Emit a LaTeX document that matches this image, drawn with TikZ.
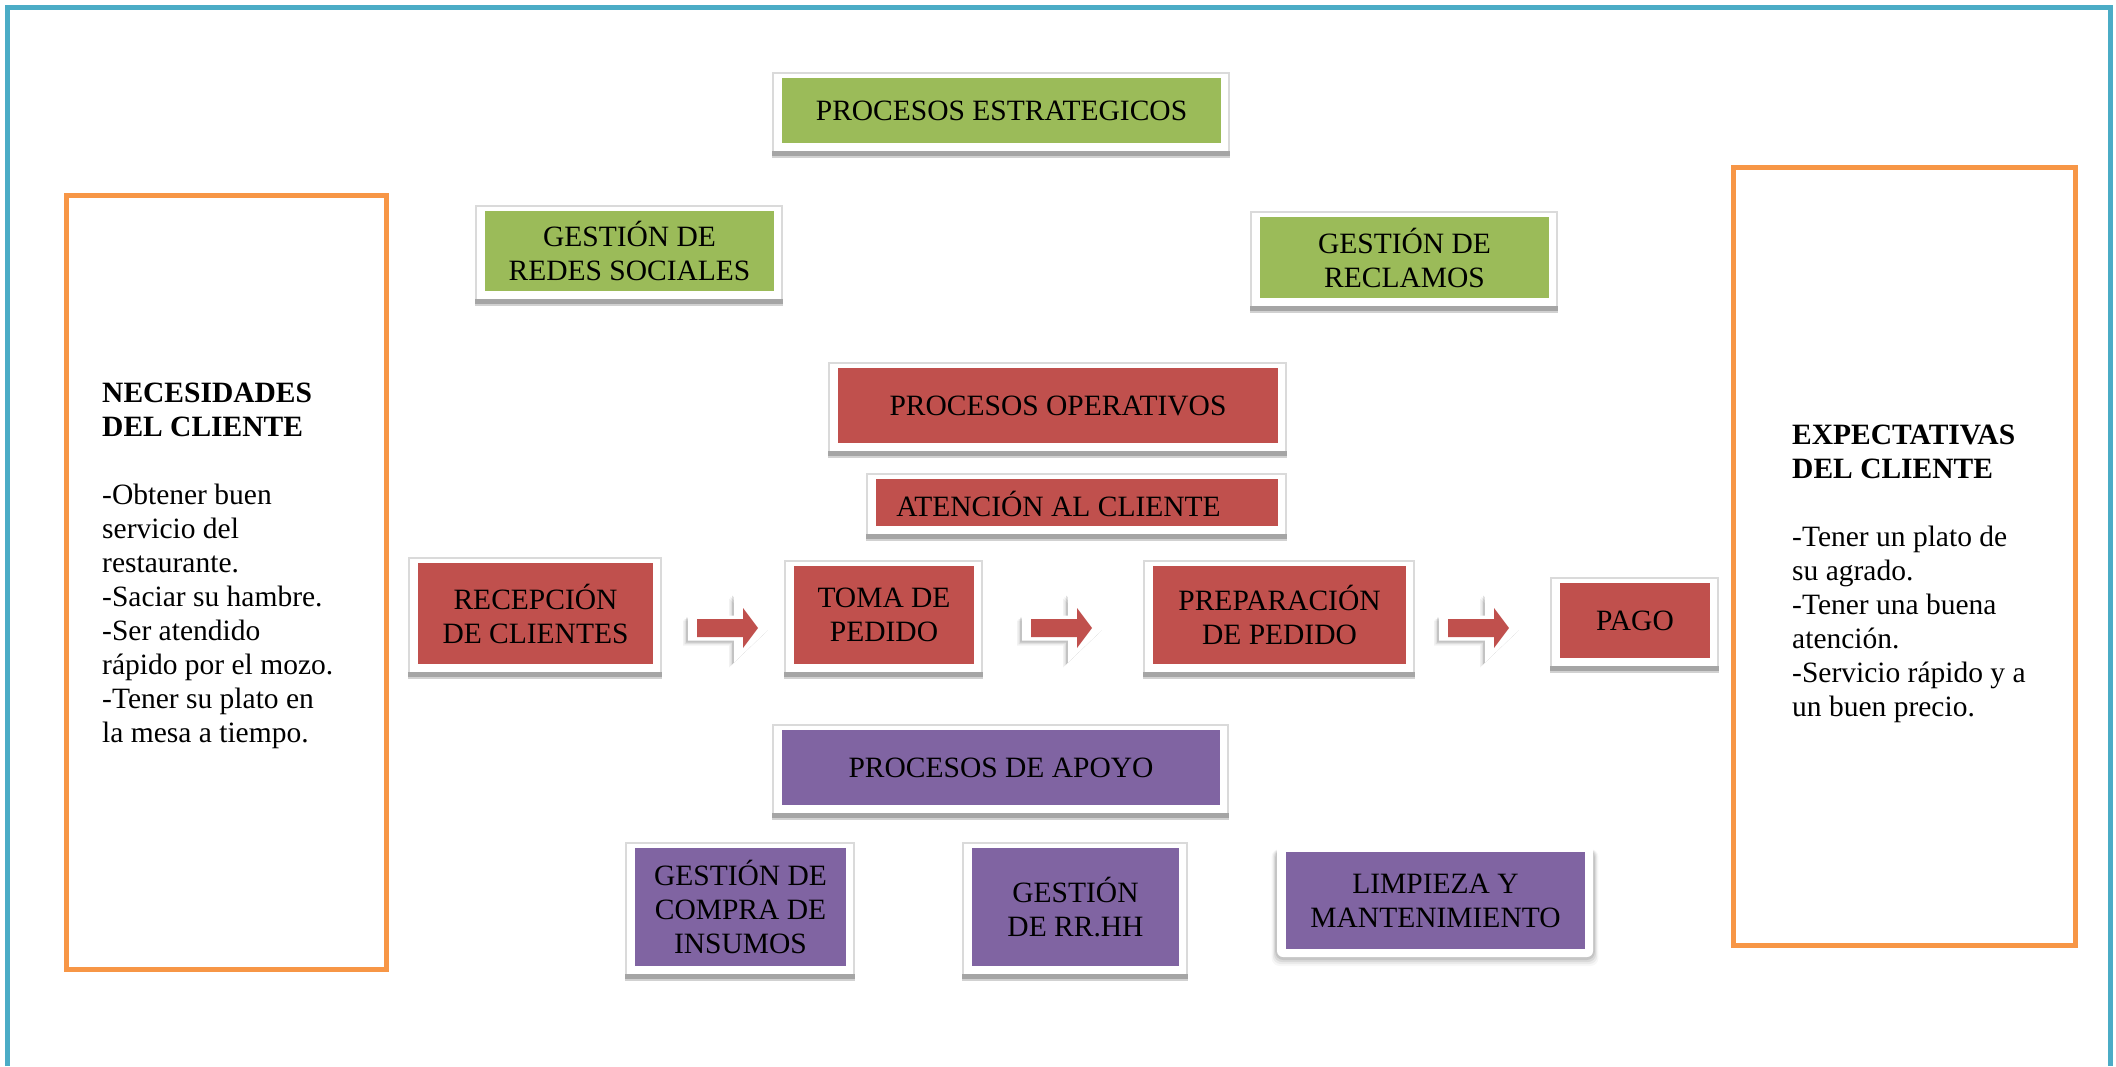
\documentclass[tikz,border=0pt]{standalone}
\usepackage{fontspec}
\setmainfont{Liberation Serif}
\usetikzlibrary{calc}
\pgfdeclarelayer{paper}
\pgfdeclarelayer{back}
\pgfsetlayers{paper,back,main}

\definecolor{frameblue}{HTML}{4BACC6}
\definecolor{boxorange}{HTML}{F79646}
\definecolor{procgreen}{HTML}{9BBB59}
\definecolor{procred}{HTML}{C0504D}
\definecolor{procpurple}{HTML}{8064A2}
\definecolor{barshade}{HTML}{A5A5A5}
\definecolor{rimgray}{HTML}{DADADA}

\newcommand{\figfont}{\fontsize{29.5}{34}\selectfont}

% white mount behind a process box: thin rim, heavy grey lower edge
\newcommand{\mountframe}[1]{%
  \begin{pgfonlayer}{back}
    \fill[white] ($(#1.north west)+(-9,-5)$) rectangle ($(#1.south east)+(8,8)$);
    \draw[rimgray, line width=1.2pt] ($(#1.south west)+(-9,8)$) -- ($(#1.north west)+(-9,-5)$)
      -- ($(#1.north east)+(8,-5)$) -- ($(#1.south east)+(8,8)$);
    \fill[barshade] ($(#1.south west)+(-9.6,8)$) rectangle ($(#1.south east)+(8.6,13)$);
    \fill[black!18] ($(#1.south west)+(-9.6,13)$) rectangle ($(#1.south east)+(8.6,14.5)$);
  \end{pgfonlayer}}

% block arrow with white rim and soft shadow; #1 name, #2 left end at mid height
\newcommand{\flowarrow}[2]{%
  \coordinate (#1) at (#2);
  \begin{scope}[shift={(#1)}]
    \foreach \k/\o in {5/0.05,3.5/0.08,2/0.12}{
      \fill[black, opacity=\o] (-\k,-12.5+\k) -- (46-\k,-12.5+\k) -- (46-\k,-34.5+\k) -- (82-\k,\k)
        -- (46-\k,34.5+\k) -- (46-\k,12.5+\k) -- (-\k,12.5+\k) -- cycle;
    }
    \fill[white] (0,-12.5) -- (46,-12.5) -- (46,-34.5) -- (82,0) -- (46,34.5) -- (46,12.5) -- (0,12.5) -- cycle;
    \fill[procred] (9,-9) -- (55,-9) -- (55,-20) -- (70,0) -- (55,20) -- (55,9) -- (9,9) -- cycle;
  \end{scope}}

\begin{document}
\begin{tikzpicture}[x=1pt, y=-1pt,
  procbox/.style={font=\figfont, align=center, inner sep=0pt, outer sep=0pt, text=black},
  strat/.style={procbox, fill=procgreen},
  oper/.style={procbox, fill=procred},
  supp/.style={procbox, fill=procpurple},
  sidebox/.style={draw=boxorange, line width=5pt, inner sep=0pt, fill=white},
  sidetext/.style={font=\figfont, align=left, inner sep=0pt, anchor=north west, text=black}]

\useasboundingbox (0,0) rectangle (2116,1066);
\begin{pgfonlayer}{paper}
  \fill[white] (0,0) rectangle (2116,1066);
\end{pgfonlayer}

% outer page border (open at the bottom)
\draw[frameblue, line width=5pt] (7.5,1066) -- (7.5,7.5) -- (2110.5,7.5) -- (2110.5,1066);

% customer needs / expectations panels
\node[sidebox, minimum width=320pt, minimum height=774pt] (needs) at (226.5,582.5) {};
\node[sidetext] (needstxt) at (102,382.5)
  {\textbf{NECESIDADES}\\ \textbf{DEL CLIENTE}\\[34pt]
   -Obtener buen\\ servicio del\\ restaurante.\\ -Saciar su hambre.\\
   -Ser atendido\\ rápido por el mozo.\\ -Tener su plato en\\ la mesa a tiempo.};

\node[sidebox, minimum width=342pt, minimum height=778pt] (expect) at (1904.5,556) {};
\node[sidetext] (expecttxt) at (1792,425)
  {\textbf{EXPECTATIVAS}\\ \textbf{DEL CLIENTE}\\[34pt]
   -Tener un plato de\\ su agrado.\\ -Tener una buena\\ atención.\\
   -Servicio rápido y a\\ un buen precio.};

% strategic processes
\node[strat, minimum width=439pt, minimum height=65pt] (estr) at (1001.5,110.5) {PROCESOS ESTRATEGICOS};
\node[strat, minimum width=289pt, minimum height=80pt] (redes) at (629.5,251) {GESTIÓN DE\\REDES SOCIALES};
\node[strat, minimum width=289pt, minimum height=81pt] (recl) at (1404.5,257.5) {GESTIÓN DE\\RECLAMOS};
\mountframe{estr}
\mountframe{redes}
\mountframe{recl}

% operating processes
\node[oper, minimum width=440pt, minimum height=75pt] (oper) at (1058,405.5) {PROCESOS OPERATIVOS};
\node[oper, minimum width=402pt, minimum height=47pt] (aten) at (1077,502.5) {};
\node[procbox] (atentxt) at (1058.5,503.5) {ATENCIÓN AL CLIENTE};
\node[oper, minimum width=235pt, minimum height=101pt] (recep) at (535.5,613.5) {RECEPCIÓN\\DE CLIENTES};
\node[oper, minimum width=180pt, minimum height=98pt] (toma) at (884,615) {TOMA DE\\PEDIDO};
\node[oper, minimum width=253pt, minimum height=98pt] (prep) at (1279.5,615) {PREPARACIÓN\\DE PEDIDO};
\node[oper, minimum width=150pt, minimum height=75pt] (pago) at (1635,620.5) {PAGO};
\mountframe{oper}
\mountframe{aten}
\mountframe{recep}
\mountframe{toma}
\mountframe{prep}
\mountframe{pago}

% flow between the operating steps
\flowarrow{recep-toma}{688,628}
\flowarrow{toma-prep}{1022,628}
\flowarrow{prep-pago}{1439,628}

% support processes
\node[supp, minimum width=438pt, minimum height=75pt] (apoyo) at (1001,767.5) {PROCESOS DE APOYO};
\node[supp, minimum width=211pt, minimum height=118pt] (compra) at (740.5,907) {GESTIÓN DE\\COMPRA DE\\INSUMOS};
\node[supp, minimum width=207pt, minimum height=118pt] (rrhh) at (1075.5,907) {GESTIÓN\\DE RR.HH};
\node[supp, minimum width=299pt, minimum height=97pt] (limp) at (1435.5,900.5) {LIMPIEZA Y\\MANTENIMIENTO};
\mountframe{apoyo}
\mountframe{compra}
\mountframe{rrhh}

% soft-shadowed rounded mount for the cleaning box
\begin{pgfonlayer}{back}
  \foreach \k/\o in {9/0.03,7/0.05,5/0.07,3/0.09}{
    \fill[black, opacity=\o, rounded corners=8pt]
      ($(limp.north west)+(-9-\k*0.6,-8+5)$) rectangle ($(limp.south east)+(8+\k*0.6,8+\k)$);
  }
  \fill[white, rounded corners=6pt] ($(limp.north west)+(-9,-8)$) rectangle ($(limp.south east)+(8,8)$);
\end{pgfonlayer}

\end{tikzpicture}
\end{document}
